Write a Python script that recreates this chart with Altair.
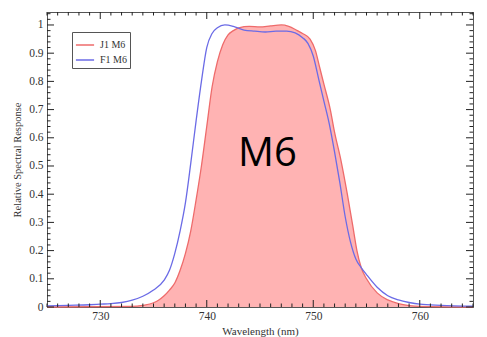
import altair as alt
import pandas as pd

# J1 M6 relative spectral response
j1_wl = [725, 733, 734, 735, 735.5, 736, 736.5, 737, 737.5, 738, 738.5, 739, 739.5, 740, 740.5,
         741, 741.5, 742, 742.5, 743, 744, 745, 746, 747, 747.7, 748.5, 749, 749.7, 750.2, 750.6,
         751, 751.6, 752, 752.6, 753.2, 753.7, 754.1, 754.5, 755, 756, 757, 758, 759, 760, 765]
j1_resp = [0.0, 0.002, 0.006, 0.015, 0.025, 0.04, 0.06, 0.085, 0.13, 0.19, 0.27, 0.38, 0.50, 0.64, 0.78,
           0.87, 0.93, 0.965, 0.98, 0.99, 0.995, 0.993, 0.997, 1.0, 0.995, 0.98, 0.97, 0.95, 0.91, 0.85,
           0.79, 0.70, 0.62, 0.52, 0.40, 0.29, 0.20, 0.14, 0.10, 0.05, 0.025, 0.012, 0.005, 0.002, 0.0]

# F1 M6 relative spectral response
f1_wl = [725, 727, 729, 730, 731, 732, 733, 734, 735, 736, 736.5, 737, 737.5, 738, 738.5, 739,
         739.5, 740, 740.5, 741, 741.7, 742.5, 743.5, 744.5, 745.5, 746.5, 747.5, 748.3, 749, 749.5,
         750, 750.5, 751, 751.5, 752, 752.5, 753, 753.5, 754, 754.5, 755, 756, 757, 758, 759, 760, 762, 765]
f1_resp = [0.004, 0.006, 0.008, 0.01, 0.012, 0.016, 0.024, 0.038, 0.06, 0.095, 0.13, 0.19, 0.27, 0.37, 0.51, 0.66,
           0.80, 0.92, 0.97, 0.99, 1.0, 0.995, 0.982, 0.978, 0.975, 0.978, 0.978, 0.972, 0.955, 0.935,
           0.89, 0.81, 0.73, 0.65, 0.55, 0.44, 0.32, 0.23, 0.17, 0.14, 0.115, 0.07, 0.04, 0.025, 0.016, 0.01, 0.006, 0.003]

series_names = ["J1 M6", "F1 M6"]
series_colors = ["#EE6B6B", "#6B6BE6"]

x_ticks = [730, 740, 750, 760]
y_ticks = [round(i * 0.1, 1) for i in range(11)]
x_minor = [v for v in range(725, 766) if v % 10 != 0]
y_minor = [round(i * 0.02, 2) for i in range(53) if i % 5 != 0]

annot_text = ["M6"]
annot_x = [745.7]
annot_y = [0.5]

W, H = 426, 295
SERIF = "Liberation Serif"
INK = "#333333"

j1 = pd.DataFrame({"wl": j1_wl, "resp": j1_resp})
lines = pd.concat([
    pd.DataFrame({"wl": j1_wl, "resp": j1_resp, "series": series_names[0]}),
    pd.DataFrame({"wl": f1_wl, "resp": f1_resp, "series": series_names[1]}),
])
annot = pd.DataFrame({"t": annot_text, "x": annot_x, "y": annot_y})

xscale = alt.Scale(domain=[725, 765], nice=False, zero=False)
yscale = alt.Scale(domain=[0, 1.046], nice=False, zero=False)

# One axis definition per channel, shared by every layer so they merge cleanly
x_axis = alt.Axis(
    orient="bottom", values=x_ticks, ticks=False, domainColor="#555555", grid=False,
    labelFont=SERIF, labelFontSize=11.5, labelColor=INK, labelPadding=3,
    title="Wavelength (nm)", titleFont=SERIF, titleFontSize=11, titleFontWeight="normal",
    titleColor=INK, titlePadding=4)
y_axis = alt.Axis(
    orient="left", values=y_ticks, format=".1~f", ticks=False, domainColor="#555555", grid=False,
    labelFont=SERIF, labelFontSize=11.5, labelColor=INK, labelPadding=4,
    title="Relative Spectral Response", titleFont=SERIF, titleFontSize=10.5,
    titleFontWeight="normal", titleColor=INK, titlePadding=6)

area = alt.Chart(j1).mark_area(color="#FFB3B3", interpolate="monotone").encode(
    x=alt.X("wl:Q", scale=xscale, axis=x_axis),
    y=alt.Y("resp:Q", scale=yscale, axis=y_axis),
)

line_layer = alt.Chart(lines).mark_line(strokeWidth=1.3, interpolate="monotone").encode(
    x=alt.X("wl:Q", scale=xscale, axis=x_axis),
    y=alt.Y("resp:Q", scale=yscale, axis=y_axis),
    color=alt.Color("series:N", scale=alt.Scale(domain=series_names, range=series_colors),
                    sort=series_names,
                    legend=alt.Legend(
                        title=None, orient="none", legendX=25, legendY=20,
                        symbolType="stroke", symbolSize=330, symbolStrokeWidth=1.5,
                        labelFont=SERIF, labelFontSize=10, labelColor=INK,
                        strokeColor="#555555", padding=3, rowPadding=0,
                        fillColor="white", labelOffset=5)),
    order=alt.Order("series:N", sort="descending"),
)

text_layer = alt.Chart(annot).mark_text(
    font="Open Sans", fontSize=40, color="black", baseline="alphabetic", align="center"
).encode(
    x=alt.X("x:Q", scale=xscale, axis=x_axis),
    y=alt.Y("y:Q", scale=yscale, axis=y_axis),
    text="t:N",
)


# Inward ticks on all four frame edges, drawn as short rules from the tick lists
def xtick_layer(values, y0, y1):
    return alt.Chart(pd.DataFrame({"wl": values})).mark_rule(
        color="#222222", strokeWidth=1).encode(
        x=alt.X("wl:Q", scale=xscale, axis=x_axis), y=alt.value(y0), y2=alt.value(y1))


def ytick_layer(values, x0, x1):
    return alt.Chart(pd.DataFrame({"resp": values})).mark_rule(
        color="#222222", strokeWidth=1).encode(
        y=alt.Y("resp:Q", scale=yscale, axis=y_axis), x=alt.value(x0), x2=alt.value(x1))


MAJ, MIN = 7, 3.5
tick_layers = [
    xtick_layer(x_ticks, H, H - MAJ), xtick_layer(x_minor, H, H - MIN),
    xtick_layer(x_ticks, 0, MAJ), xtick_layer(x_minor, 0, MIN),
    ytick_layer(y_ticks, 0, MAJ), ytick_layer(y_minor, 0, MIN),
    ytick_layer(y_ticks, W, W - MAJ), ytick_layer(y_minor, W, W - MIN),
]

chart = alt.layer(area, line_layer, text_layer, *tick_layers).properties(
    width=W, height=H,
    autosize=alt.AutoSizeParams(type="none"),
    padding={"left": 47, "top": 12, "right": 14, "bottom": 30},
    background="white",
).configure_view(stroke="#555555", strokeWidth=1)

chart.save("out.html", embed_options={"renderer": "svg", "actions": False})
